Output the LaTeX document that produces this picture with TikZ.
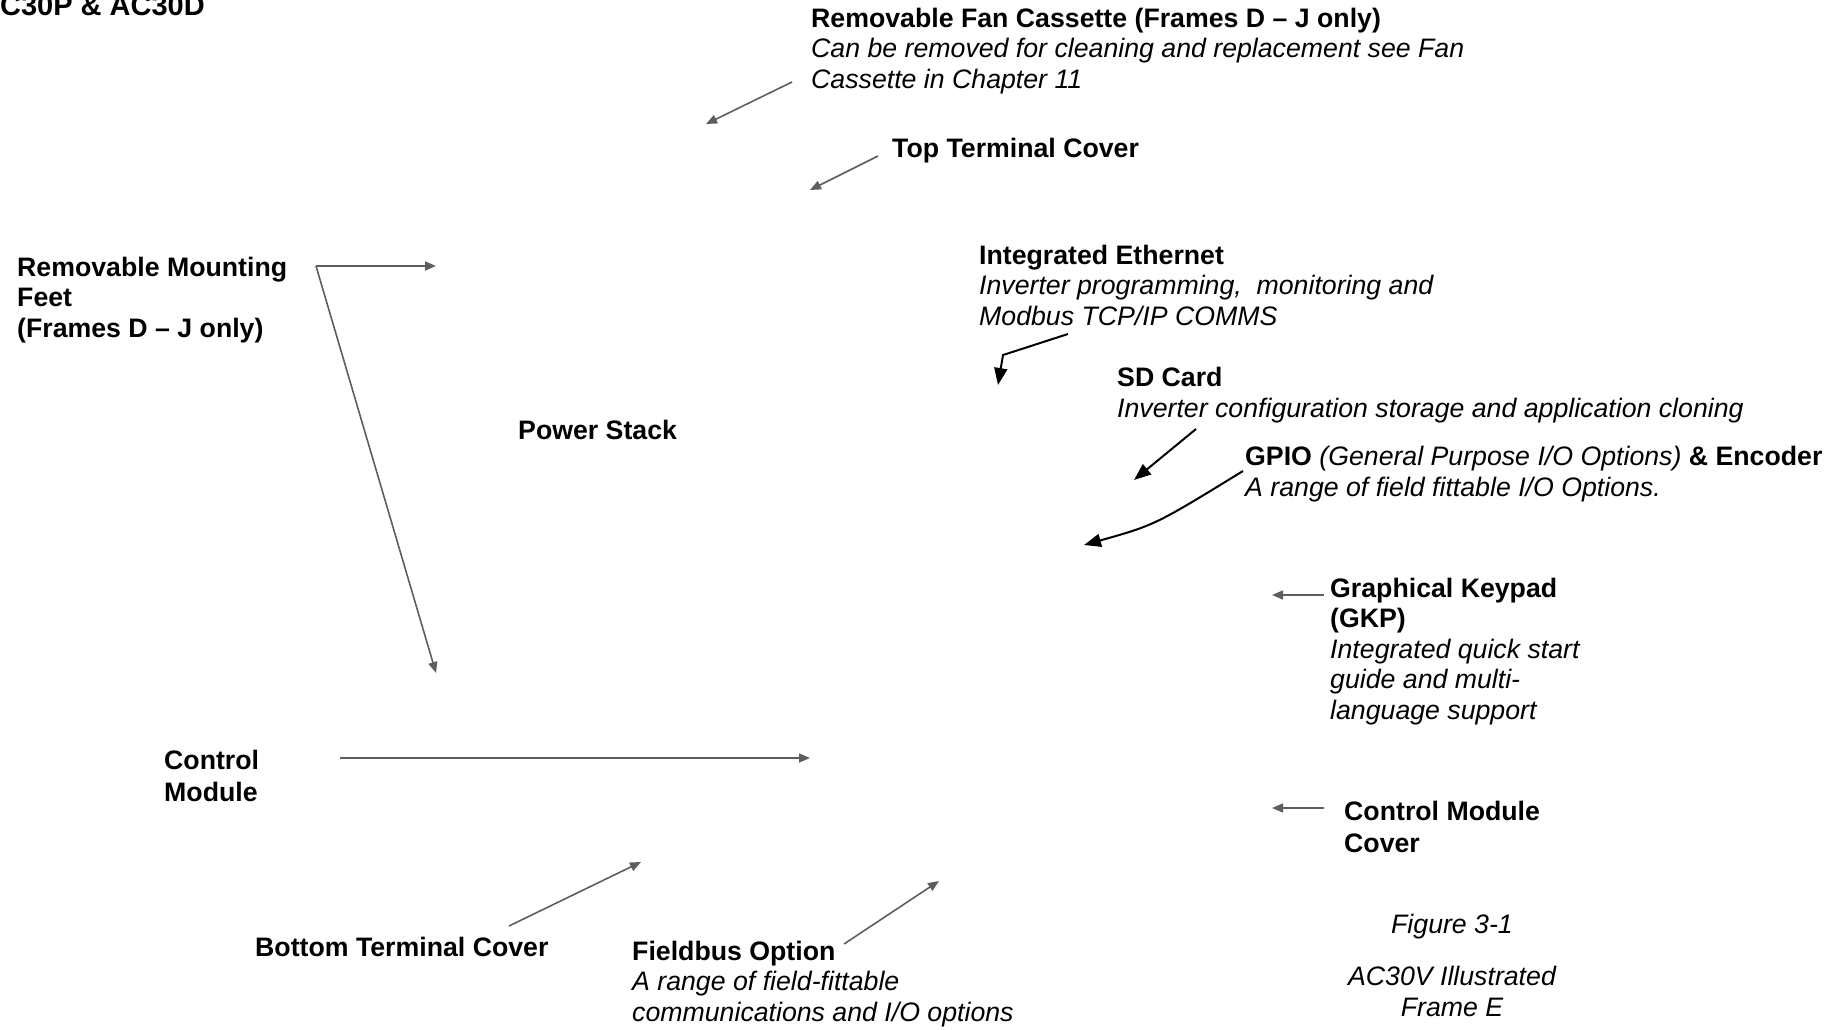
\documentclass[tikz,border=0pt]{standalone}
\usepackage{fontspec}
\setmainfont{Liberation Sans}
\usetikzlibrary{arrows.meta}

\definecolor{leadgray}{HTML}{5E5E5E}

\tikzset{
  lbl/.style={anchor=base west, inner sep=0pt, align=left,
              font=\fontsize{26.7}{30.5}\selectfont},
  lead/.style={leadgray, line width=1.6pt, -{Triangle[length=11pt,width=9pt]}},
  boldlead/.style={black, line width=2pt, -{Triangle[length=17pt,width=13pt]}}
}

\begin{document}
\begin{tikzpicture}[x=1pt,y=-1pt]
    \useasboundingbox (0,0) rectangle (1836,1029);

    % labels (multi-line nodes sit on the baseline of their last line)
    \node[lbl, anchor=base east, font=\fontsize{29}{33}\selectfont\bfseries] (title) at (205,15) {AC30P \& AC30D};
    \node[lbl] (fan) at (811,88) {\textbf{Removable Fan Cassette (Frames D – J only)}\\
        \textit{Can be removed for cleaning and replacement see Fan}\\
        \textit{Cassette in Chapter 11}};
    \node[lbl] (topcover) at (892,157) {\textbf{Top Terminal Cover}};
    \node[lbl, font=\fontsize{26.7}{30.5}\selectfont\bfseries] (feet) at (17,337) {Removable Mounting\\ Feet\\ (Frames D – J only)};
    \node[lbl] (stack) at (518,439) {\textbf{Power Stack}};
    \node[lbl] (ether) at (979,325) {\textbf{Integrated Ethernet}\\
        \textit{Inverter programming,\ \ monitoring and}\\
        \textit{Modbus TCP/IP COMMS}};
    \node[lbl] (sdcard) at (1117,417) {\textbf{SD Card}\\
        \textit{Inverter configuration storage and application cloning}};
    \node[lbl] (gpio) at (1245,496) {\textbf{GPIO} \textit{(General Purpose I/O Options)} \textbf{\& Encoder}\\
        \textit{A range of field fittable I/O Options.}};
    \node[lbl] (keypad) at (1330,719) {\textbf{Graphical Keypad}\\ \textbf{(GKP)}\\
        \textit{Integrated quick start}\\ \textit{guide and multi-}\\ \textit{language support}};
    \node[lbl, font=\fontsize{26.7}{32}\selectfont\bfseries] (cmcover) at (1344,852) {Control Module\\ Cover};
    \node[lbl, font=\fontsize{26.7}{32}\selectfont\bfseries] (module) at (164,801) {Control\\ Module};
    \node[lbl] (bottom) at (255,956) {\textbf{Bottom Terminal Cover}};
    \node[lbl] (fieldbus) at (632,1021) {\textbf{Fieldbus Option}\\
        \textit{A range of field-fittable}\\
        \textit{communications and I/O options}};
    \node[lbl, anchor=base, align=center, font=\fontsize{26.7}{30.5}\selectfont\itshape] (caption) at (1452,1016)
        {Figure 3-1\\[22pt] AC30V Illustrated\\ Frame E};

    % leader end points
    \coordinate (fan-a) at (792,82);     \coordinate (fan-b) at (706,124);
    \coordinate (top-a) at (878,156);    \coordinate (top-b) at (810,190);
    \coordinate (feet-a) at (316,266);   \coordinate (feet-b) at (436,266);
    \coordinate (feet-c) at (436,673);
    \coordinate (eth-a) at (1068,334);   \coordinate (eth-m) at (1003,355);
    \coordinate (eth-b) at (998,385);
    \coordinate (sd-a) at (1196,429);    \coordinate (sd-b) at (1134,480);
    \coordinate (gpio-a) at (1243,471);  \coordinate (gpio-b) at (1084,545);
    \coordinate (gkp-a) at (1324,595);   \coordinate (gkp-b) at (1272,595);
    \coordinate (cmc-a) at (1324,808);   \coordinate (cmc-b) at (1272,808);
    \coordinate (mod-a) at (340,758);    \coordinate (mod-b) at (810,758);
    \coordinate (btm-a) at (509,926);    \coordinate (btm-b) at (641,862);
    \coordinate (fb-a) at (844,944);     \coordinate (fb-b) at (939,881);

    % leaders
    \draw[lead] (fan-a) -- (fan-b);
    \draw[lead] (top-a) -- (top-b);
    \draw[lead] (feet-a) -- (feet-b);
    \draw[lead] (feet-a) -- (feet-c);
    \draw[boldlead] (eth-a) -- (eth-m) -- (eth-b);
    \draw[boldlead] (sd-a) -- (sd-b);
    \draw[boldlead] (gpio-a) .. controls (1155,525) .. (gpio-b);
    \draw[lead] (gkp-a) -- (gkp-b);
    \draw[lead] (cmc-a) -- (cmc-b);
    \draw[lead] (mod-a) -- (mod-b);
    \draw[lead] (btm-a) -- (btm-b);
    \draw[lead] (fb-a) -- (fb-b);
\end{tikzpicture}
\end{document}
